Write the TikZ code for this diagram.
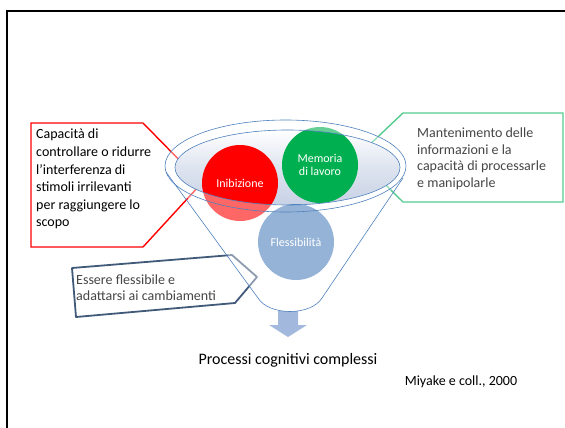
\documentclass[tikz,border=0pt]{standalone}
\usepackage{fontspec}
\setmainfont{Carlito}
\usetikzlibrary{arrows.meta}
\definecolor{inibred}{RGB}{255,0,0}
\definecolor{memgreen}{RGB}{0,176,80}
\definecolor{flessblue}{RGB}{79,129,189}
\definecolor{rimfill}{RGB}{200,210,229}
\definecolor{callgreen}{RGB}{84,204,144}
\definecolor{callblue}{RGB}{66,90,122}
\definecolor{arrowblue}{RGB}{162,184,220}
\definecolor{textgray}{RGB}{70,70,70}
\pgfdeclarelayer{back}
\pgfsetlayers{back,main}
\tikzset{
  ball/.style={circle, minimum size=76pt, inner sep=0pt, text=white, align=center,
    font=\fontsize{12}{13.5}\selectfont},
  calltext/.style={anchor=north west, inner sep=0pt, align=left},
  funnel/.style={draw=flessblue, line width=0.6pt},
}

\begin{document}
\begin{tikzpicture}[x=1pt,y=-1pt]
\useasboundingbox (0,0) rectangle (565,428);
\draw[line width=2pt] (7,428) -- (7,11) -- (565,11);

% inside of the funnel
\shade[top color=white, bottom color=rimfill, middle color=rimfill!60!white] (287.5,167.5) ellipse[x radius=112.5, y radius=37.5];

\node[ball, fill=inibred]   (inib)  at (240,183) {Inibizione};
\node[ball, fill=memgreen]  (mem)   at (320,165) {Memoria\\di lavoro};
\node[ball, fill=flessblue] (fless) at (296,242) {Flessibilità};

% arrow out of the funnel
\coordinate (funnelbot) at (288,311);
\fill[arrowblue] (funnelbot) ++(-10,0) -- ++(20,0) -- ++(0,14) -- ++(9,0)
  -- (288,337) -- (269,325) -- ++(9,0) -- cycle;

% front of the funnel
\fill[white, fill opacity=0.4, even odd rule]
  (165,166) arc[start angle=180, end angle=360, x radius=120.5, y radius=46]
  -- (322,298) .. controls (311,316) and (269,316) .. (258,298) -- cycle
  (287.5,167.5) ellipse[x radius=112.5, y radius=37.5];
\draw[funnel] (285.5,166) ellipse[x radius=120.5, y radius=46];
\draw[funnel] (287.5,167.5) ellipse[x radius=112.5, y radius=37.5];
\draw[funnel] (166,172) -- (258,298) .. controls (269,316) and (311,316) .. (322,298) -- (403,178);

% callouts
\node[calltext, font=\fontsize{14}{17.6}\selectfont] (inibtext) at (36,129)
  {Capacità di\\controllare o ridurre\\l’interferenza di\\stimoli irrilevanti\\per raggiungere lo\\scopo};
\node[calltext, text=textgray, font=\fontsize{14}{16.6}\selectfont] (memtext) at (417,127.5)
  {Mantenimento delle\\informazioni e la\\capacità di processarle\\e manipolarle};
\node[calltext, text=textgray, font=\fontsize{14}{16}\selectfont] (flesstext) at (76,275)
  {Essere flessibile e\\adattarsi ai cambiamenti};

\begin{pgfonlayer}{back}
\draw[inibred, line width=1.4pt, fill=white] (inib.west) -- (143,123) -- (31,123) -- (31,247) -- (143,247) -- cycle;
\draw[callgreen, line width=1.4pt, fill=white] (mem.13) -- (403,113) -- (563,113) -- (563,202) -- (403,202) -- cycle;
\draw[callblue, line width=1.8pt, fill=white, line join=round] (72,268) -- (232,255) -- (257,277) -- (235,303) -- (76,317) -- cycle;
\end{pgfonlayer}

\node (proc) at (288,360) {\fontsize{16}{19}\selectfont Processi cognitivi complessi};
\node (cite) at (461,382) {\fontsize{14}{17}\selectfont Miyake e coll., 2000};
\end{tikzpicture}
\end{document}
